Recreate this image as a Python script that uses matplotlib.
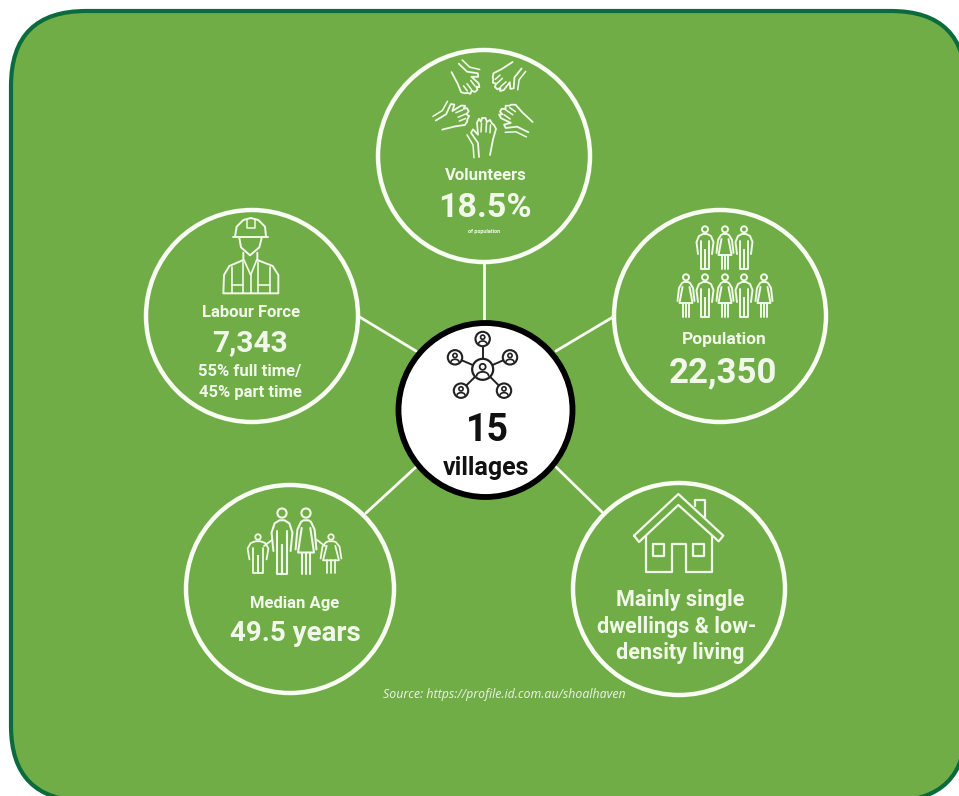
import numpy as np
import matplotlib
matplotlib.use('Agg')
import matplotlib.pyplot as plt
from matplotlib.patches import Circle, FancyBboxPatch

plt.rcParams['font.family'] = ['Roboto', 'DejaVu Sans']

# Text content of the infographic
volunteers_label = 'Volunteers'
volunteers_value = '18.5%'
volunteers_note = 'of population'
labour_label = 'Labour Force'
labour_value = '7,343'
labour_notes = ['55% full time/', '45% part time']
population_label = 'Population'
population_value = '22,350'
age_label = 'Median Age'
age_value = '49.5 years'
dwelling_lines = ['Mainly single', 'dwellings & low-', 'density living']
centre_value = '15'
centre_label = 'villages'
source_text = 'Source: https://profile.id.com.au/shoalhaven'

GREEN = '#70ad47'
DARK_EDGE = '#0b6b3c'
INK = '#f1f8ea'
RING = '#f8fcf3'
DARK = '#222222'
LW = 1.4

fig = plt.figure(figsize=(9.59, 7.96), dpi=100)
ax = fig.add_axes([0, 0, 1, 1])
ax.set_xlim(0, 959)
ax.set_ylim(796, 0)
ax.axis('off')


def ln(pts, color=INK, lw=LW, z=5):
    xs, ys = zip(*pts)
    ax.plot(xs, ys, color=color, lw=lw, solid_capstyle='round', solid_joinstyle='round', zorder=z)


def zoom_ln(pts, ox, oy, color=INK, lw=LW):
    ln([(ox + x / 3, oy + y / 3) for x, y in pts], color=color, lw=lw)


def ring(x, y, r, color=INK, lw=LW, fc='none', z=5):
    ax.add_patch(Circle((x, y), r, fc=fc, ec=color, lw=lw, zorder=z))


def label(x, y, s, size, weight='bold', color=INK, **kw):
    ax.text(x, y, s, fontsize=size, fontweight=weight, color=color, ha='center', va='baseline', zorder=6, **kw)


# background panel, runs off the right and bottom edge
ax.add_patch(FancyBboxPatch((11 + 75, 11 + 75), 955 - 150, 790 - 150,
                            boxstyle='round,pad=75,rounding_size=75',
                            fc=GREEN, ec=DARK_EDGE, lw=3.0, zorder=1))

# spokes
for a, b in [((484, 263), (484, 322)), ((358, 316), (416, 351)), ((613, 317), (556, 351)),
             ((366, 513), (416, 467)), ((602, 512), (556, 467))]:
    ln([a, b], color=RING, lw=2.0, z=2)

# outer circles
for cx, cy, r in [(484, 156, 106), (252, 316, 106), (720, 316, 106), (290, 589, 104), (679, 589, 106)]:
    ring(cx, cy, r, color=RING, lw=3.2, z=3)

# centre circle
ring(485.5, 410, 87, color='black', lw=4.2, fc='white', z=4)

# hands, origin at the wrist and fingers towards -y, one unit long
hand = np.array([(-5, 0), (-6, -0.36), (-13, -0.62), (-11, -0.71), (-6, -0.57), (-7, -0.88), (-5, -0.98),
                 (-3, -0.90), (-2, -1.0), (1.5, -1.0), (3, -0.90), (6, -0.95), (8, -0.86), (10, -0.82),
                 (12, -0.72), (9, -0.45), (6, -0.05)], dtype=float)
cuff = np.array([(-10, 0.02), (-11, -0.31), (-17, -0.57)], dtype=float)
gaps = [((-2.5, -0.86), (-3, -0.64)), ((2.5, -0.88), (2, -0.64)), ((6.5, -0.82), (6, -0.62))]
wrists = [(484, 157), (455, 67), (518, 65), (438, 125), (531, 128)]
tips = [(484, 118), (476, 91), (496, 88), (468, 110), (501, 110)]
for wrist, tip in zip(wrists, tips):
    aim = np.array(tip) - np.array(wrist)
    length = np.hypot(*aim)
    ang = np.arctan2(aim[0], -aim[1])
    rot = np.array([[np.cos(ang), -np.sin(ang)], [np.sin(ang), np.cos(ang)]])
    stretch = np.array([1.0, length])
    ln((hand * stretch) @ rot.T + wrist, lw=1.3)
    ln((cuff * stretch) @ rot.T + wrist, lw=1.1)
    for a, b in gaps:
        ln((np.array([a, b]) * stretch) @ rot.T + wrist, lw=1.1)

# worker
ox, oy = 140, 210
zoom_ln([(285, 80), (290, 50), (310, 30), (332, 24), (355, 30), (375, 50), (378, 80)], ox, oy)
zoom_ln([(280, 80), (385, 80)], ox, oy)
zoom_ln([(320, 28), (320, 55), (345, 55), (345, 28)], ox, oy, lw=1.1)
zoom_ln([(298, 84), (303, 112), (330, 136), (358, 112), (365, 84)], ox, oy)
zoom_ln([(310, 128), (310, 150), (268, 168), (252, 195), (250, 250), (415, 250), (415, 195), (398, 168),
         (352, 150), (352, 128)], ox, oy)
zoom_ln([(275, 172), (275, 250)], ox, oy, lw=1.2)
zoom_ln([(390, 172), (390, 250)], ox, oy, lw=1.2)
zoom_ln([(312, 150), (332, 195), (350, 150)], ox, oy, lw=1.2)
zoom_ln([(310, 155), (310, 250)], ox, oy, lw=1.2)
zoom_ln([(355, 155), (355, 250)], ox, oy, lw=1.2)
zoom_ln([(332, 195), (332, 250)], ox, oy, lw=1.2)
zoom_ln([(275, 226), (310, 226)], ox, oy, lw=1.2)
zoom_ln([(355, 226), (390, 226)], ox, oy, lw=1.2)


def person(cx, top, h, kind, lw=1.4, wide=1.0):
    # figure h pixels tall, feet at top + h
    s = h / 43.0
    w = s * wide

    def pt(x, y):
        return (cx + x * w, top + y * s)
    ring(cx, top + 3.3 * s, 3.0 * s, lw=lw)
    if kind == 'm':
        ln([pt(-7, 28), pt(-8.5, 16), pt(-6, 10), pt(-2, 8), pt(2, 8), pt(6, 10), pt(8.5, 16), pt(7, 28)], lw=lw)
        ln([pt(-4, 15), pt(-4, 43), pt(0, 43), pt(0, 24), pt(0, 43), pt(4, 43), pt(4, 15)], lw=lw)
    else:
        ln([pt(-8.5, 27), pt(-7, 14), pt(-4, 9), pt(-2, 8), pt(2, 8), pt(4, 9), pt(7, 14), pt(8.5, 27)], lw=lw)
        ln([pt(-3.5, 13), pt(-6.5, 29), pt(6.5, 29), pt(3.5, 13)], lw=lw)
        for lx in (-3.4, 0, 3.4):
            ln([pt(lx, 29), pt(lx, 43)], lw=lw)


# population figures
for cx, kind in [(705, 'm'), (725, 'f'), (744, 'm')]:
    person(cx, 226, 43, kind)
for cx, kind in [(686, 'f'), (705, 'm'), (725, 'f'), (744, 'm'), (764, 'f')]:
    person(cx, 274, 43, kind)

# family, children holding on to the parents
person(282, 508, 66, 'm', lw=1.5, wide=0.8)
person(306, 508, 66, 'f', lw=1.5, wide=0.8)
person(258, 534, 39, 'm', lw=1.3, wide=1.35)
person(331, 534, 39, 'f', lw=1.3, wide=1.35)
ln([(264, 546), (272, 540)], lw=1.3)
ln([(325, 546), (317, 540)], lw=1.3)

# house
ox, oy = 560, 470
zoom_ln([(222, 197), (355, 72), (490, 197), (476, 214), (355, 105), (237, 216), (222, 197)], ox, oy, lw=1.6)
zoom_ln([(405, 108), (405, 90), (435, 90), (435, 140)], ox, oy, lw=1.6)
zoom_ln([(258, 198), (258, 307), (335, 307), (335, 222), (378, 222), (378, 307), (455, 307), (455, 198)], ox, oy, lw=1.6)
zoom_ln([(280, 222), (312, 222), (312, 257), (280, 257), (280, 222)], ox, oy, lw=1.6)
zoom_ln([(400, 222), (432, 222), (432, 257), (400, 257), (400, 222)], ox, oy, lw=1.6)

# network icon in the centre circle
hub = (390 + 278 / 3, 320 + 148 / 3)
nodes = [(278, 57), (360, 112), (342, 212), (213, 212), (195, 112)]
t = np.linspace(np.pi, 2 * np.pi, 12)
for nx, ny in nodes:
    n = (390 + nx / 3, 320 + ny / 3)
    d = np.array(n) - np.array(hub)
    u = d / np.hypot(*d)
    ln([tuple(np.array(hub) + u * 11), tuple(np.array(n) - u * 7.5)], color=DARK, lw=1.4)
    ring(n[0], n[1], 7.2, color=DARK, lw=1.5, z=6)
    ring(n[0], n[1] - 1.8, 2.1, color=DARK, lw=1.2, z=6)
    ln(list(zip(n[0] + 4 * np.cos(t), n[1] + 4.5 + 2.5 * np.sin(t))), color=DARK, lw=1.2, z=6)
ring(hub[0], hub[1], 10.5, color=DARK, lw=1.6, z=6)
ring(hub[0], hub[1] - 2.5, 3.0, color=DARK, lw=1.3, z=6)
ln(list(zip(hub[0] + 6 * np.cos(t), hub[1] + 6.5 + 4 * np.sin(t))), color=DARK, lw=1.3, z=6)

# labels
label(486, 180, volunteers_label, 12)
label(485, 217, volunteers_value, 24.5)
label(484, 233, volunteers_note, 4)
label(251, 317, labour_label, 12)
label(250, 351, labour_value, 21.5)
label(250, 376, labour_notes[0], 12)
label(250, 397, labour_notes[1], 12)
label(724, 344, population_label, 12.5)
label(723, 382, population_value, 25)
label(295, 608, age_label, 12)
label(295, 641, age_value, 20)
label(680, 606, dwelling_lines[0], 15.5)
label(677, 633, dwelling_lines[1], 15.5)
label(680, 659, dwelling_lines[2], 15.5)
label(487, 441, centre_value, 27, color='#111111')
label(486, 475, centre_label, 18, color='#111111')
ax.text(504, 698, source_text, fontsize=8.9, style='italic', color='#e4efd9', ha='center', va='baseline',
        family=['Noto Sans', 'DejaVu Sans'], zorder=6)

fig.savefig('out.png', dpi=100, facecolor='white')
